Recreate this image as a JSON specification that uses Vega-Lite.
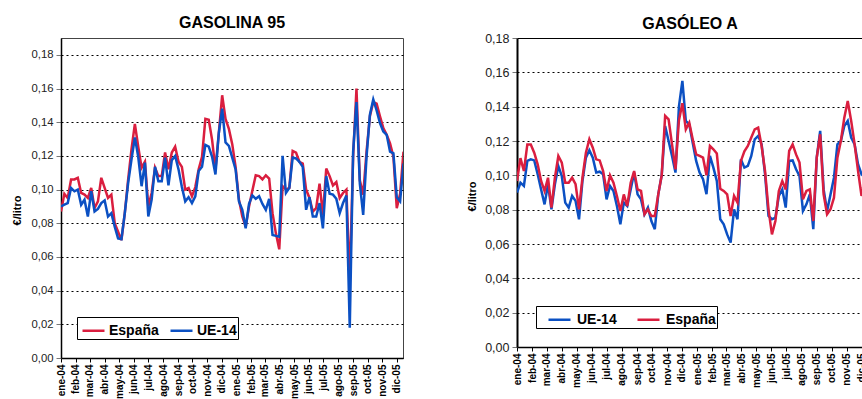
{
  "$schema": "https://vega.github.io/schema/vega-lite/v6.json",
  "padding": {"left": 10, "top": 14, "right": 0, "bottom": 0},
  "background": "white",
  "spacing": 114,
  "bounds": "flush",
  "config": {
    "font": "Liberation Sans",
    "title": {"fontSize": 16, "fontWeight": "bold", "color": "#000", "anchor": "middle"}
  },
  "datasets": {
    "g95": [
      {"d": "2004-01-01", "España": 0.087, "UE-14": 0.090},
      {"d": "2004-01-08", "España": 0.0975, "UE-14": 0.091},
      {"d": "2004-01-15", "España": 0.095, "UE-14": 0.092},
      {"d": "2004-01-22", "España": 0.106, "UE-14": 0.101},
      {"d": "2004-01-29", "España": 0.106, "UE-14": 0.099},
      {"d": "2004-02-05", "España": 0.107, "UE-14": 0.100},
      {"d": "2004-02-12", "España": 0.098, "UE-14": 0.091},
      {"d": "2004-02-19", "España": 0.097, "UE-14": 0.094},
      {"d": "2004-02-26", "España": 0.095, "UE-14": 0.084},
      {"d": "2004-03-04", "España": 0.101, "UE-14": 0.099},
      {"d": "2004-03-11", "España": 0.089, "UE-14": 0.087},
      {"d": "2004-03-18", "España": 0.093, "UE-14": 0.0885},
      {"d": "2004-03-25", "España": 0.107, "UE-14": 0.092},
      {"d": "2004-04-01", "España": 0.101, "UE-14": 0.0935},
      {"d": "2004-04-08", "España": 0.095, "UE-14": 0.084},
      {"d": "2004-04-15", "España": 0.097, "UE-14": 0.086},
      {"d": "2004-04-22", "España": 0.080, "UE-14": 0.078},
      {"d": "2004-04-29", "España": 0.075, "UE-14": 0.071},
      {"d": "2004-05-06", "España": 0.070, "UE-14": 0.0705},
      {"d": "2004-05-13", "España": 0.086, "UE-14": 0.086},
      {"d": "2004-05-20", "España": 0.106, "UE-14": 0.104},
      {"d": "2004-05-27", "España": 0.124, "UE-14": 0.118},
      {"d": "2004-06-03", "España": 0.139, "UE-14": 0.131},
      {"d": "2004-06-10", "España": 0.1255, "UE-14": 0.1195},
      {"d": "2004-06-17", "España": 0.113, "UE-14": 0.102},
      {"d": "2004-06-24", "España": 0.1165, "UE-14": 0.116},
      {"d": "2004-07-01", "España": 0.090, "UE-14": 0.084},
      {"d": "2004-07-08", "España": 0.098, "UE-14": 0.094},
      {"d": "2004-07-15", "España": 0.113, "UE-14": 0.1135},
      {"d": "2004-07-22", "España": 0.108, "UE-14": 0.105},
      {"d": "2004-07-29", "España": 0.108, "UE-14": 0.105},
      {"d": "2004-08-05", "España": 0.122, "UE-14": 0.119},
      {"d": "2004-08-12", "España": 0.112, "UE-14": 0.1025},
      {"d": "2004-08-19", "España": 0.122, "UE-14": 0.1175},
      {"d": "2004-08-26", "España": 0.1255, "UE-14": 0.120},
      {"d": "2004-09-02", "España": 0.1165, "UE-14": 0.112},
      {"d": "2004-09-09", "España": 0.1135, "UE-14": 0.1015},
      {"d": "2004-09-16", "España": 0.100, "UE-14": 0.093},
      {"d": "2004-09-23", "España": 0.101, "UE-14": 0.0955},
      {"d": "2004-09-30", "España": 0.096, "UE-14": 0.092},
      {"d": "2004-10-07", "España": 0.1015, "UE-14": 0.096},
      {"d": "2004-10-14", "España": 0.112, "UE-14": 0.111},
      {"d": "2004-10-21", "España": 0.1195, "UE-14": 0.1135},
      {"d": "2004-10-28", "España": 0.142, "UE-14": 0.1265},
      {"d": "2004-11-04", "España": 0.1415, "UE-14": 0.1255},
      {"d": "2004-11-11", "España": 0.1295, "UE-14": 0.1195},
      {"d": "2004-11-18", "España": 0.112, "UE-14": 0.109},
      {"d": "2004-11-25", "España": 0.1335, "UE-14": 0.1335},
      {"d": "2004-12-02", "España": 0.156, "UE-14": 0.148},
      {"d": "2004-12-09", "España": 0.142, "UE-14": 0.128},
      {"d": "2004-12-16", "España": 0.136, "UE-14": 0.126},
      {"d": "2004-12-23", "España": 0.127, "UE-14": 0.119},
      {"d": "2004-12-30", "España": 0.1135, "UE-14": 0.112},
      {"d": "2005-01-06", "España": 0.094, "UE-14": 0.093},
      {"d": "2005-01-13", "España": 0.084, "UE-14": 0.088},
      {"d": "2005-01-20", "España": 0.078, "UE-14": 0.077},
      {"d": "2005-01-27", "España": 0.090, "UE-14": 0.0915},
      {"d": "2005-02-03", "España": 0.0995, "UE-14": 0.0965},
      {"d": "2005-02-10", "España": 0.1085, "UE-14": 0.0945},
      {"d": "2005-02-17", "España": 0.108, "UE-14": 0.096},
      {"d": "2005-02-24", "España": 0.106, "UE-14": 0.0915},
      {"d": "2005-03-03", "España": 0.1085, "UE-14": 0.088},
      {"d": "2005-03-10", "España": 0.1065, "UE-14": 0.0945},
      {"d": "2005-03-17", "España": 0.086, "UE-14": 0.073},
      {"d": "2005-03-24", "España": 0.074, "UE-14": 0.0725},
      {"d": "2005-03-31", "España": 0.0645, "UE-14": 0.072},
      {"d": "2005-04-07", "España": 0.102, "UE-14": 0.120},
      {"d": "2005-04-14", "España": 0.100, "UE-14": 0.098},
      {"d": "2005-04-21", "España": 0.101, "UE-14": 0.101},
      {"d": "2005-04-28", "España": 0.123, "UE-14": 0.119},
      {"d": "2005-05-05", "España": 0.122, "UE-14": 0.1185},
      {"d": "2005-05-12", "España": 0.1165, "UE-14": 0.1165},
      {"d": "2005-05-19", "España": 0.1155, "UE-14": 0.1135},
      {"d": "2005-05-26", "España": 0.100, "UE-14": 0.088},
      {"d": "2005-06-02", "España": 0.095, "UE-14": 0.0955},
      {"d": "2005-06-09", "España": 0.087, "UE-14": 0.084},
      {"d": "2005-06-16", "España": 0.089, "UE-14": 0.084},
      {"d": "2005-06-23", "España": 0.1035, "UE-14": 0.092},
      {"d": "2005-06-30", "España": 0.085, "UE-14": 0.077},
      {"d": "2005-07-07", "España": 0.1125, "UE-14": 0.108},
      {"d": "2005-07-14", "España": 0.108, "UE-14": 0.0975},
      {"d": "2005-07-21", "España": 0.1025, "UE-14": 0.097},
      {"d": "2005-07-28", "España": 0.1045, "UE-14": 0.0945},
      {"d": "2005-08-04", "España": 0.095, "UE-14": 0.086},
      {"d": "2005-08-11", "España": 0.098, "UE-14": 0.092},
      {"d": "2005-08-18", "España": 0.100, "UE-14": 0.0965},
      {"d": "2005-08-25", "España": 0.045, "UE-14": 0.018},
      {"d": "2005-09-01", "España": 0.1195, "UE-14": 0.1225},
      {"d": "2005-09-08", "España": 0.160, "UE-14": 0.152},
      {"d": "2005-09-15", "España": 0.1055, "UE-14": 0.1035},
      {"d": "2005-09-22", "España": 0.097, "UE-14": 0.085},
      {"d": "2005-09-29", "España": 0.1225, "UE-14": 0.1195},
      {"d": "2005-10-06", "España": 0.1435, "UE-14": 0.1445},
      {"d": "2005-10-13", "España": 0.152, "UE-14": 0.1535},
      {"d": "2005-10-20", "España": 0.151, "UE-14": 0.147},
      {"d": "2005-10-27", "España": 0.1435, "UE-14": 0.1395},
      {"d": "2005-11-03", "España": 0.1365, "UE-14": 0.1345},
      {"d": "2005-11-10", "España": 0.1325, "UE-14": 0.1325},
      {"d": "2005-11-17", "España": 0.1275, "UE-14": 0.1225},
      {"d": "2005-11-24", "España": 0.1195, "UE-14": 0.1215},
      {"d": "2005-12-01", "España": 0.089, "UE-14": 0.0955},
      {"d": "2005-12-08", "España": 0.0975, "UE-14": 0.093},
      {"d": "2005-12-15", "España": 0.1225, "UE-14": 0.1155}
    ],
    "gA": [
      {"d": "2004-01-01", "España": 0.0967, "UE-14": 0.090},
      {"d": "2004-01-08", "España": 0.110, "UE-14": 0.0957},
      {"d": "2004-01-15", "España": 0.1025, "UE-14": 0.0938},
      {"d": "2004-01-22", "España": 0.118, "UE-14": 0.1084},
      {"d": "2004-01-29", "España": 0.118, "UE-14": 0.1093},
      {"d": "2004-02-05", "España": 0.1132, "UE-14": 0.1087},
      {"d": "2004-02-12", "España": 0.1064, "UE-14": 0.1006},
      {"d": "2004-02-19", "España": 0.0967, "UE-14": 0.0918},
      {"d": "2004-02-26", "España": 0.0909, "UE-14": 0.0831},
      {"d": "2004-03-04", "España": 0.0986, "UE-14": 0.0948},
      {"d": "2004-03-11", "España": 0.0812, "UE-14": 0.0802},
      {"d": "2004-03-18", "España": 0.0986, "UE-14": 0.0948},
      {"d": "2004-03-25", "España": 0.1113, "UE-14": 0.1054},
      {"d": "2004-04-01", "España": 0.1074, "UE-14": 0.0996},
      {"d": "2004-04-08", "España": 0.0957, "UE-14": 0.0841},
      {"d": "2004-04-15", "España": 0.0957, "UE-14": 0.0812},
      {"d": "2004-04-22", "España": 0.0986, "UE-14": 0.088},
      {"d": "2004-04-29", "España": 0.0948, "UE-14": 0.0851},
      {"d": "2004-05-06", "España": 0.0802, "UE-14": 0.0744},
      {"d": "2004-05-13", "España": 0.0986, "UE-14": 0.0967},
      {"d": "2004-05-20", "España": 0.1132, "UE-14": 0.1103},
      {"d": "2004-05-27", "España": 0.121, "UE-14": 0.1146},
      {"d": "2004-06-03", "España": 0.1161, "UE-14": 0.1103},
      {"d": "2004-06-10", "España": 0.1093, "UE-14": 0.1016},
      {"d": "2004-06-17", "España": 0.1087, "UE-14": 0.1021},
      {"d": "2004-06-24", "España": 0.1025, "UE-14": 0.1006},
      {"d": "2004-07-01", "España": 0.0909, "UE-14": 0.086},
      {"d": "2004-07-08", "España": 0.100, "UE-14": 0.0938},
      {"d": "2004-07-15", "España": 0.0957, "UE-14": 0.0909},
      {"d": "2004-07-22", "España": 0.088, "UE-14": 0.0822},
      {"d": "2004-07-29", "España": 0.0792, "UE-14": 0.0715},
      {"d": "2004-08-05", "España": 0.0889, "UE-14": 0.0841},
      {"d": "2004-08-12", "España": 0.0821, "UE-14": 0.0821},
      {"d": "2004-08-19", "España": 0.0957, "UE-14": 0.0918},
      {"d": "2004-08-26", "España": 0.1025, "UE-14": 0.1016},
      {"d": "2004-09-02", "España": 0.0918, "UE-14": 0.0889},
      {"d": "2004-09-09", "España": 0.0909, "UE-14": 0.086},
      {"d": "2004-09-16", "España": 0.0773, "UE-14": 0.0773},
      {"d": "2004-09-23", "España": 0.0802, "UE-14": 0.0812},
      {"d": "2004-09-30", "España": 0.0763, "UE-14": 0.0734},
      {"d": "2004-10-07", "España": 0.0763, "UE-14": 0.0686},
      {"d": "2004-10-14", "España": 0.0889, "UE-14": 0.0889},
      {"d": "2004-10-21", "España": 0.100, "UE-14": 0.100},
      {"d": "2004-10-28", "España": 0.1346, "UE-14": 0.1287},
      {"d": "2004-11-04", "España": 0.1326, "UE-14": 0.120},
      {"d": "2004-11-11", "España": 0.118, "UE-14": 0.1113},
      {"d": "2004-11-18", "España": 0.1035, "UE-14": 0.1016},
      {"d": "2004-11-25", "España": 0.132, "UE-14": 0.140},
      {"d": "2004-12-02", "España": 0.142, "UE-14": 0.155},
      {"d": "2004-12-09", "España": 0.1268, "UE-14": 0.1317},
      {"d": "2004-12-16", "España": 0.1307, "UE-14": 0.1297},
      {"d": "2004-12-23", "España": 0.121, "UE-14": 0.119},
      {"d": "2004-12-30", "España": 0.1122, "UE-14": 0.1084},
      {"d": "2005-01-06", "España": 0.1113, "UE-14": 0.1016},
      {"d": "2005-01-13", "España": 0.1103, "UE-14": 0.0977},
      {"d": "2005-01-20", "España": 0.100, "UE-14": 0.089},
      {"d": "2005-01-27", "España": 0.1171, "UE-14": 0.1113},
      {"d": "2005-02-03", "España": 0.1152, "UE-14": 0.1045},
      {"d": "2005-02-10", "España": 0.1127, "UE-14": 0.0967},
      {"d": "2005-02-17", "España": 0.0922, "UE-14": 0.0744},
      {"d": "2005-02-24", "España": 0.0909, "UE-14": 0.0715},
      {"d": "2005-03-03", "España": 0.0889, "UE-14": 0.0656},
      {"d": "2005-03-10", "España": 0.0763, "UE-14": 0.0608},
      {"d": "2005-03-17", "España": 0.088, "UE-14": 0.0802},
      {"d": "2005-03-24", "España": 0.0841, "UE-14": 0.0744},
      {"d": "2005-03-31", "España": 0.1084, "UE-14": 0.1093},
      {"d": "2005-04-07", "España": 0.114, "UE-14": 0.1045},
      {"d": "2005-04-14", "España": 0.1171, "UE-14": 0.1055},
      {"d": "2005-04-21", "España": 0.122, "UE-14": 0.1113},
      {"d": "2005-04-28", "España": 0.1268, "UE-14": 0.121},
      {"d": "2005-05-05", "España": 0.1278, "UE-14": 0.123},
      {"d": "2005-05-12", "España": 0.1171, "UE-14": 0.1181},
      {"d": "2005-05-19", "España": 0.1025, "UE-14": 0.1006},
      {"d": "2005-05-26", "España": 0.0802, "UE-14": 0.0763},
      {"d": "2005-06-02", "España": 0.0656, "UE-14": 0.0744},
      {"d": "2005-06-09", "España": 0.0734, "UE-14": 0.0754},
      {"d": "2005-06-16", "España": 0.0909, "UE-14": 0.088},
      {"d": "2005-06-23", "España": 0.0967, "UE-14": 0.0918},
      {"d": "2005-06-30", "España": 0.0918, "UE-14": 0.0812},
      {"d": "2005-07-07", "España": 0.1142, "UE-14": 0.1084},
      {"d": "2005-07-14", "España": 0.118, "UE-14": 0.1087},
      {"d": "2005-07-21", "España": 0.1122, "UE-14": 0.1035},
      {"d": "2005-07-28", "España": 0.1074, "UE-14": 0.0996},
      {"d": "2005-08-04", "España": 0.086, "UE-14": 0.0793},
      {"d": "2005-08-11", "España": 0.0909, "UE-14": 0.0831},
      {"d": "2005-08-18", "España": 0.0918, "UE-14": 0.0889},
      {"d": "2005-08-25", "España": 0.0734, "UE-14": 0.0686},
      {"d": "2005-09-01", "España": 0.1103, "UE-14": 0.1103},
      {"d": "2005-09-08", "España": 0.1239, "UE-14": 0.1259},
      {"d": "2005-09-15", "España": 0.0889, "UE-14": 0.0918},
      {"d": "2005-09-22", "España": 0.0773, "UE-14": 0.0792},
      {"d": "2005-09-29", "España": 0.0802, "UE-14": 0.0889},
      {"d": "2005-10-06", "España": 0.087, "UE-14": 0.0986},
      {"d": "2005-10-13", "España": 0.1103, "UE-14": 0.1181},
      {"d": "2005-10-20", "España": 0.120, "UE-14": 0.120},
      {"d": "2005-10-27", "España": 0.1336, "UE-14": 0.1287},
      {"d": "2005-11-03", "España": 0.1433, "UE-14": 0.1317},
      {"d": "2005-11-10", "España": 0.1317, "UE-14": 0.122},
      {"d": "2005-11-17", "España": 0.118, "UE-14": 0.118},
      {"d": "2005-11-24", "España": 0.1025, "UE-14": 0.1064},
      {"d": "2005-12-01", "España": 0.088, "UE-14": 0.1006},
      {"d": "2005-12-08", "España": 0.0986, "UE-14": 0.1025}
    ]
  },
  "hconcat": [
    {
      "title": {"text": "GASOLINA 95", "offset": 7.5},
      "width": 342,
      "height": 320,
      "view": {"stroke": "#444", "strokeWidth": 1},
      "data": {"name": "g95"},
      "transform": [{"fold": ["España", "UE-14"], "as": ["serie", "v"]}],
      "mark": {"type": "line", "strokeWidth": 2.5, "clip": true},
      "encoding": {
        "x": {
          "field": "d", "type": "temporal",
          "scale": {"domain": ["2004-01-01", "2005-12-14"], "nice": false},
          "axis": {
            "title": null, "grid": false, "domainColor": "#000", "domainWidth": 1.5, "tickColor": "#000", "tickSize": 4,
            "labelAngle": -90, "labelAlign": "right", "labelBaseline": "middle", "labelPadding": 2,
            "labelFontSize": 10, "labelFontWeight": "bold", "labelColor": "#000", "labelOverlap": false,
            "tickCount": {"interval": "month", "step": 1},
            "labelExpr": "['ene','feb','mar','abr','may','jun','jul','ago','sep','oct','nov','dic'][month(datum.value)] + '-' + timeFormat(datum.value, '%y')"
          }
        },
        "y": {
          "field": "v", "type": "quantitative",
          "scale": {"domain": [0, 0.19], "nice": false},
          "axis": {
            "values": [0, 0.02, 0.04, 0.06, 0.08, 0.1, 0.12, 0.14, 0.16, 0.18],
            "title": "€/litro", "titleFontWeight": "bold", "titleFontSize": 11, "titleColor": "#000",
            "titleX": -44, "titleY": 172, "titleAngle": -90, "titleAlign": "center", "titleBaseline": "middle",
            "grid": true, "gridDash": [2, 3], "gridColor": "#000", "gridWidth": 1,
            "domainColor": "#000", "domainWidth": 1.5, "tickColor": "#777", "tickSize": 5, "labelPadding": 3,
            "labelFontSize": 11.3, "labelColor": "#222",
            "labelExpr": "replace(format(datum.value, '.2f'), '.', ',')"
          }
        },
        "color": {
          "field": "serie", "type": "nominal",
          "scale": {"domain": ["España", "UE-14"], "range": ["#DA1E3F", "#0B50C3"]},
          "legend": {
            "orient": "none", "legendX": 16, "legendY": 279, "direction": "horizontal", "title": null,
            "strokeColor": "#000", "fillColor": "white", "padding": 1,
            "symbolType": "stroke", "symbolStrokeWidth": 2.5, "symbolSize": 484, "symbolOffset": 3, "columnPadding": 6,
            "labelFontSize": 14, "labelFontWeight": "bold", "labelColor": "#000", "labelOffset": 3
          }
        }
      }
    },
    {
      "title": {"text": "GASÓLEO A", "offset": 0},
      "width": 346,
      "height": 309,
      "view": {"stroke": null},
      "data": {"name": "gA"},
      "transform": [{"fold": ["UE-14", "España"], "as": ["serie", "v"]}],
      "mark": {"type": "line", "strokeWidth": 2.5, "clip": true},
      "encoding": {
        "x": {
          "field": "d", "type": "temporal",
          "scale": {"domain": ["2004-01-01", "2005-12-04"], "nice": false},
          "axis": {
            "title": null, "grid": false, "domainColor": "#000", "domainWidth": 1.5, "tickColor": "#000", "tickSize": 4,
            "labelAngle": -90, "labelAlign": "right", "labelBaseline": "middle", "labelPadding": 2,
            "labelFontSize": 10, "labelFontWeight": "bold", "labelColor": "#000", "labelOverlap": false,
            "tickCount": {"interval": "month", "step": 1},
            "labelExpr": "['ene','feb','mar','abr','may','jun','jul','ago','sep','oct','nov','dic'][month(datum.value)] + '-' + timeFormat(datum.value, '%y')"
          }
        },
        "y": {
          "field": "v", "type": "quantitative",
          "scale": {"domain": [0, 0.18], "nice": false},
          "axis": {
            "values": [0, 0.02, 0.04, 0.06, 0.08, 0.1, 0.12, 0.14, 0.16, 0.18],
            "title": "€/litro", "titleFontWeight": "bold", "titleFontSize": 11, "titleColor": "#000",
            "titleX": -45, "titleY": 158, "titleAngle": -90, "titleAlign": "center", "titleBaseline": "middle",
            "grid": true, "gridColor": "#000", "gridWidth": 1,
            "gridDash": {"condition": {"test": "datum.value >= 0.179", "value": []}, "value": [2, 3]},
            "domainColor": "#000", "domainWidth": 2, "tickColor": "#777", "tickSize": 5, "labelPadding": 3,
            "labelFontSize": 12.5, "labelColor": "#222",
            "labelExpr": "replace(format(datum.value, '.2f'), '.', ',')"
          }
        },
        "color": {
          "field": "serie", "type": "nominal",
          "scale": {"domain": ["UE-14", "España"], "range": ["#0B50C3", "#DA1E3F"]},
          "legend": {
            "orient": "none", "legendX": 19, "legendY": 268, "direction": "horizontal", "title": null,
            "strokeColor": "#000", "fillColor": "white", "padding": 1,
            "symbolType": "stroke", "symbolStrokeWidth": 2.5, "symbolSize": 484, "symbolOffset": 10, "columnPadding": 9,
            "labelFontSize": 14, "labelFontWeight": "bold", "labelColor": "#000", "labelOffset": 5
          }
        }
      }
    }
  ],
  "resolve": {"scale": {"color": "independent", "x": "independent", "y": "independent"}, "legend": {"color": "independent"}}
}
